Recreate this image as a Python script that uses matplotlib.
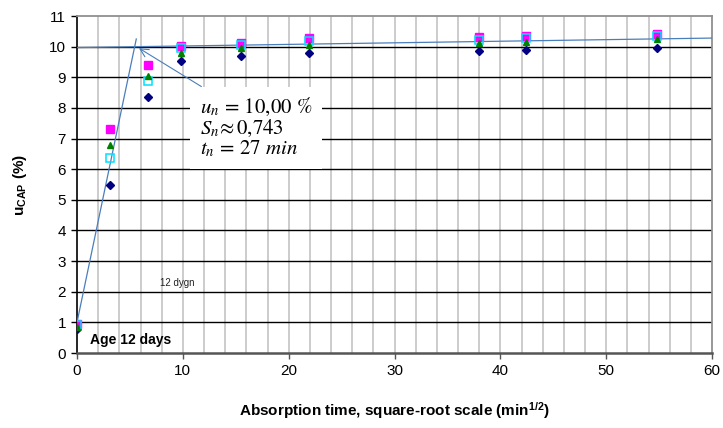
import numpy as np
import matplotlib.pyplot as plt
from matplotlib.ticker import MultipleLocator

plt.rcParams['font.family'] = ['Liberation Sans', 'DejaVu Sans']
plt.rcParams['mathtext.fontset'] = 'stix'

# ---------------------------------------------------------------------------
# Data
# ---------------------------------------------------------------------------
x_sqrt_t = [0.0, 3.16, 6.71, 9.80, 15.49, 21.91, 37.95, 42.43, 54.77]

u_navy = [0.80, 5.49, 8.36, 9.52, 9.68, 9.79, 9.87, 9.90, 9.96]
u_magenta = [0.95, 7.32, 9.40, 10.01, 10.12, 10.27, 10.30, 10.34, 10.40]
u_green = [0.85, 6.80, 9.05, 9.79, 9.95, 10.06, 10.12, 10.15, 10.26]
u_cyan = [0.90, 6.37, 8.89, 9.95, 10.05, 10.20, 10.23, 10.27, 10.36]

# fitted lines: initial capillary rise and the slow branch
steep_x = [0.0, 5.6]
steep_y = [1.0, 10.25]
slow_x = [0.0, 60.0]
slow_y = [9.97, 10.28]

knee_point = (5.85, 9.95)

C_LINE = "#4a7ebb"

fig = plt.figure(figsize=(7.23, 4.28), dpi=100, facecolor="white")
ax = fig.add_axes([0.1065, 0.1752, 0.8785, 0.7874])

# grid: light gray verticals every 2, black horizontals every 1
for xv in np.arange(2, 60, 2):
    ax.axvline(xv, color="#c8c8c8", lw=1.3, zorder=0)
for yv in np.arange(1, 11, 1):
    ax.axhline(yv, color="black", lw=1.0, zorder=1)

ax.plot(steep_x, steep_y, color=C_LINE, lw=0.9, zorder=3)
ax.plot(slow_x, slow_y, color=C_LINE, lw=0.9, zorder=3)

ax.plot(x_sqrt_t, u_navy, linestyle="none", marker="D", ms=3.8,
        color="#000080", zorder=5)
ax.plot(x_sqrt_t, u_magenta, linestyle="none", marker="s", ms=5.5,
        color="#ff00ff", zorder=5)
ax.plot(x_sqrt_t, u_cyan, linestyle="none", marker="s", ms=5.5,
        mfc="none", mec="#00e0ff", mew=1.1, zorder=6)
ax.plot(x_sqrt_t, u_green, linestyle="none", marker="^", ms=5.0,
        color="#008000", zorder=7)

# annotation with result box
ax.annotate(
    "$u_n\\,=\\,10{,}00$ %\n$S_n\\!\\approx 0{,}743$\n$t_n\\,=\\,27\\ min$",
    xy=knee_point, xytext=(11.6, 7.35),
    fontsize=15, family="STIXGeneral", va="center", ha="left",
    linespacing=1.0,
    bbox=dict(boxstyle="square,pad=0.45", fc="white", ec="none"),
    arrowprops=dict(arrowstyle="->", color=C_LINE, lw=0.8,
                    shrinkA=0, shrinkB=0, relpos=(0.15, 1.0)),
    zorder=8,
)

ax.text(7.8, 2.3, "12 dygn", fontsize=7, color="#222222",
        ha="left", va="center", zorder=8)
ax.text(1.2, 0.42, "Age 12 days", fontsize=10, fontweight="bold",
        ha="left", va="center", zorder=8)

ax.set_xlim(0, 60)
ax.set_ylim(0, 11)
ax.xaxis.set_major_locator(MultipleLocator(10))
ax.yaxis.set_major_locator(MultipleLocator(1))
ax.tick_params(axis="both", direction="out", length=4, width=1,
               labelsize=11, colors="black", pad=4)
ax.tick_params(axis="x", color="#555555")

for side in ["top", "right"]:
    ax.spines[side].set_color("#909090")
    ax.spines[side].set_linewidth(1.3)
ax.spines["bottom"].set_color("#555555")
ax.spines["bottom"].set_linewidth(1.8)
ax.spines["left"].set_color("black")
ax.spines["left"].set_linewidth(1.2)

ax.set_xlabel("Absorption time, square-root scale (min$^{\\mathregular{1/2}}$)",
              fontsize=11, fontweight="bold", labelpad=16)
ax.set_ylabel("u$_{\\mathregular{CAP}}$ (%)", fontsize=11, fontweight="bold",
              labelpad=14)

fig.savefig("out.png", dpi=100, facecolor="white")
